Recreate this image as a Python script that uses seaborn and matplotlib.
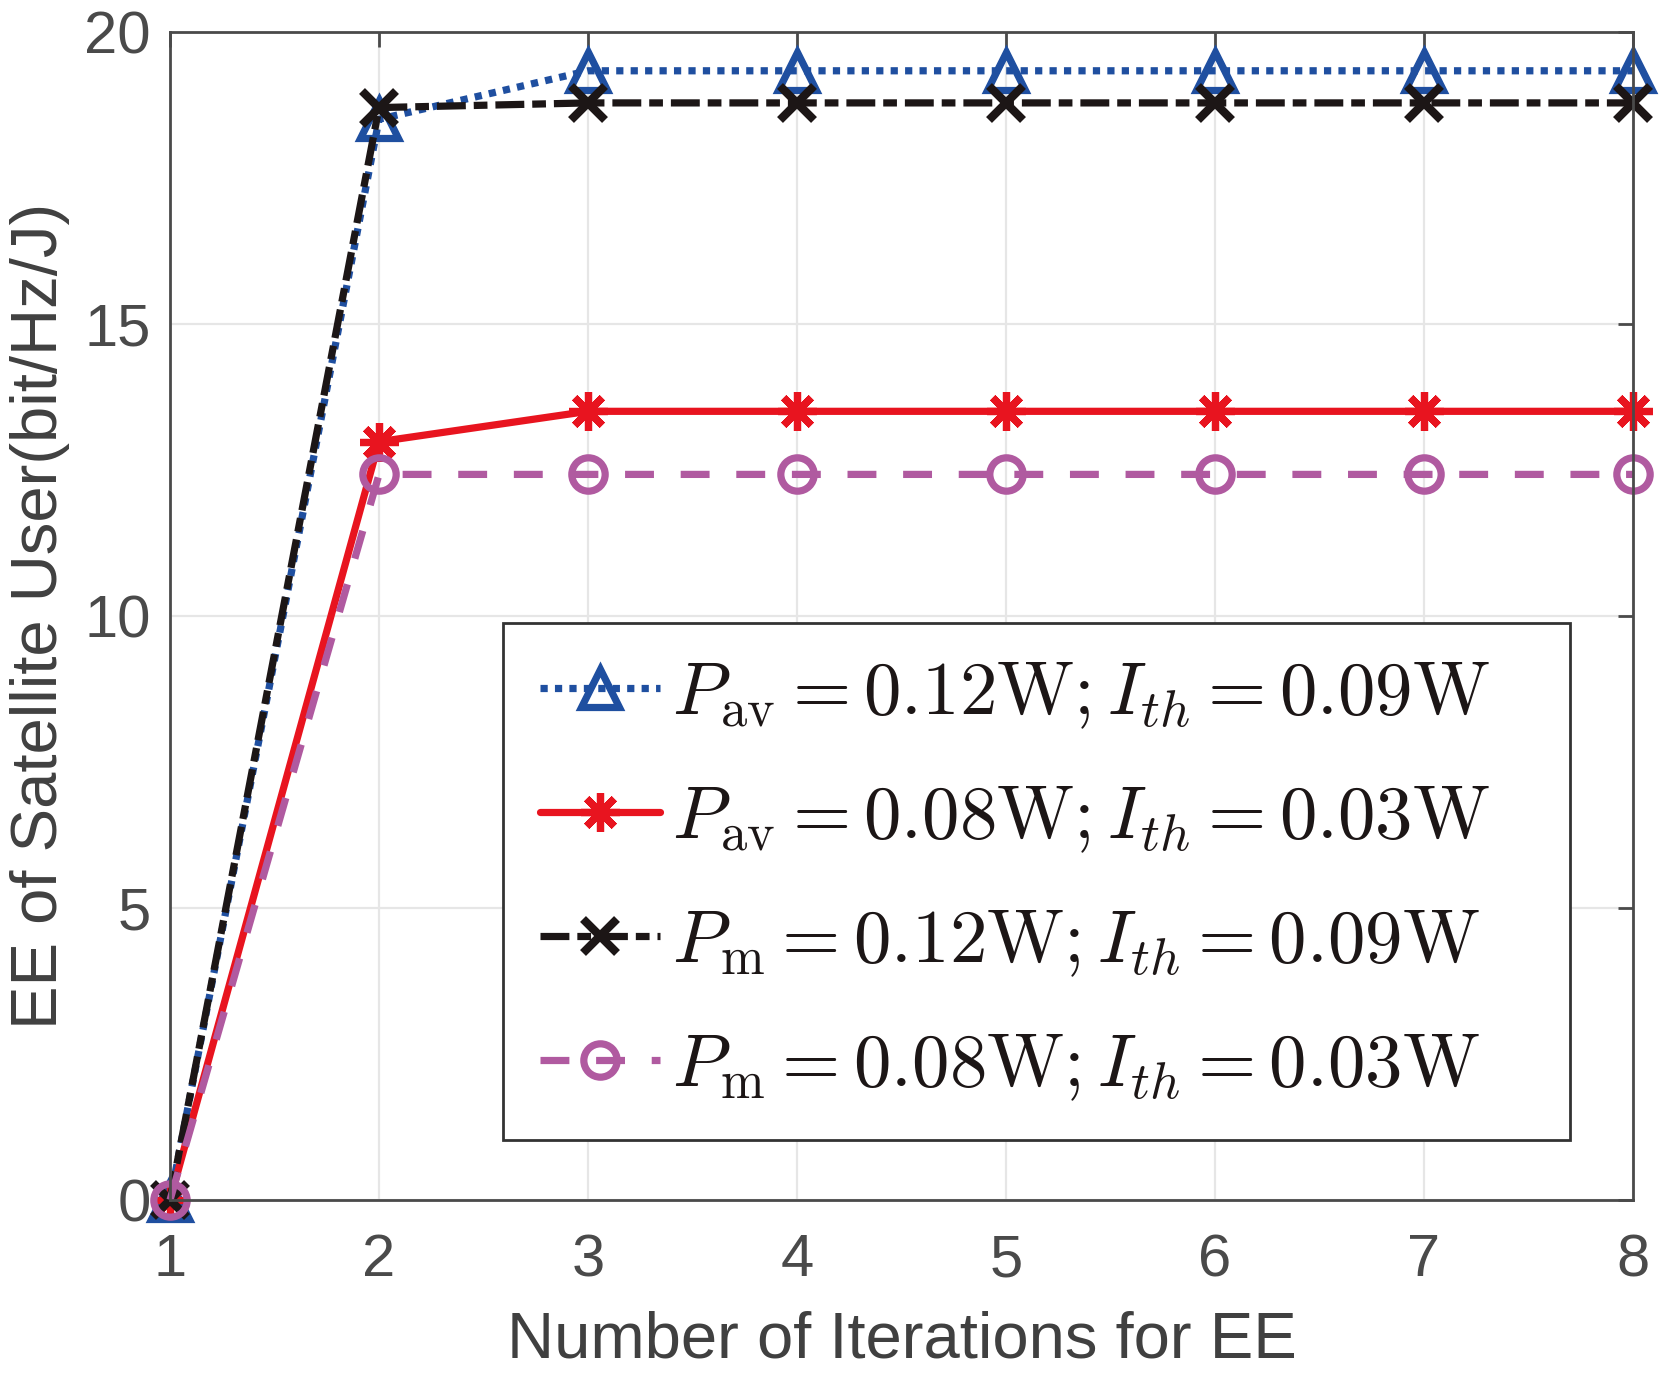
import numpy as np
import pandas as pd
import matplotlib
matplotlib.use('Agg')
import matplotlib.pyplot as plt
import seaborn as sns

iterations = [1, 2, 3, 4, 5, 6, 7, 8]
ee_pav_012 = [0.0, 18.5, 19.33, 19.33, 19.33, 19.33, 19.33, 19.33]
ee_pav_008 = [0.0, 12.98, 13.5, 13.5, 13.5, 13.5, 13.5, 13.5]
ee_pm_012 = [0.0, 18.7, 18.78, 18.78, 18.78, 18.78, 18.78, 18.78]
ee_pm_008 = [0.0, 12.42, 12.42, 12.42, 12.42, 12.42, 12.42, 12.42]

labels = [r'$P_{\rm av} = 0.12{\rm W}; I_{th} = 0.09{\rm W}$   ',
          r'$P_{\rm av} = 0.08{\rm W}; I_{th} = 0.03{\rm W}$   ',
          r'$P_{\rm m} = 0.12{\rm W}; I_{th} = 0.09{\rm W}$   ',
          r'$P_{\rm m} = 0.08{\rm W}; I_{th} = 0.03{\rm W}$   ']
colors = ['#1f4fa0', '#e8141f', '#1c1616', '#b05aa0']

sns.set_style('white')
plt.rcParams['font.family'] = ['Liberation Sans', 'DejaVu Sans']
plt.rcParams['mathtext.fontset'] = 'cm'

fig = plt.figure(figsize=(8.36, 6.88), dpi=200)
ax = fig.add_axes([0.1017, 0.128, 0.875, 0.849])

lw = 2.6
# blue dotted, hollow triangles
sns.lineplot(x=iterations, y=ee_pav_012, ax=ax, color=colors[0], lw=lw,
             linestyle=(0, (1, 1)), marker='^', markersize=14,
             markerfacecolor='none', markeredgecolor=colors[0], markeredgewidth=2.6,
             label=labels[0], clip_on=False)
# red solid, asterisks
sns.lineplot(x=iterations, y=ee_pav_008, ax=ax, color=colors[1], lw=lw,
             linestyle='-', marker=(8, 2, 0), markersize=14,
             markeredgecolor=colors[1], markeredgewidth=2.6, label=labels[1],
             clip_on=False)
# black dash-dot, x
sns.lineplot(x=iterations, y=ee_pm_012, ax=ax, color=colors[2], lw=lw,
             linestyle=(0, (4, 1.1, 1.9, 1.1)), marker='x', markersize=12,
             markeredgecolor=colors[2], markeredgewidth=3, label=labels[2],
             clip_on=False)
# purple dashed, hollow circles
sns.lineplot(x=iterations, y=ee_pm_008, ax=ax, color=colors[3], lw=lw,
             linestyle=(0, (4, 3.7)), marker='o', markersize=12,
             markerfacecolor='none', markeredgecolor=colors[3], markeredgewidth=2.6,
             label=labels[3], clip_on=False)
for ln in ax.lines:
    ln.set_dash_capstyle('butt')

ax.set_xlim(1, 8)
ax.set_ylim(0, 20)
ax.set_xticks(iterations)
ax.set_yticks([0, 5, 10, 15, 20])
ax.grid(True, color='#e6e6e6', lw=0.8)
ax.set_axisbelow(True)
for s in ax.spines.values():
    s.set_color('#4a4a4a')
    s.set_linewidth(1.0)
    s.set_visible(True)
ax.tick_params(direction='in', length=5.5, width=1.0, colors='#4a4a4a',
               labelsize=21.5, top=True, right=True, labelcolor='#4a4a4a')
ax.tick_params(axis='x', pad=12)
ax.tick_params(axis='y', pad=7)

ax.set_xlabel('Number of Iterations for EE', fontsize=23.5, color='#404040', labelpad=8)
ax.set_ylabel('EE of Satellite User(bit/Hz/J)', fontsize=23.5, color='#404040', labelpad=5)

leg = ax.legend(loc='lower right', bbox_to_anchor=(0.957, 0.051), borderaxespad=0,
                fontsize=27, handlelength=1.6, handletextpad=0.15, labelspacing=0.71,
                borderpad=0.5, fancybox=False, framealpha=1, edgecolor='#333333')
leg.get_frame().set_linewidth(1.0)
for t in leg.get_texts():
    t.set_color('#1c1616')

fig.savefig('out.png', dpi=200)
